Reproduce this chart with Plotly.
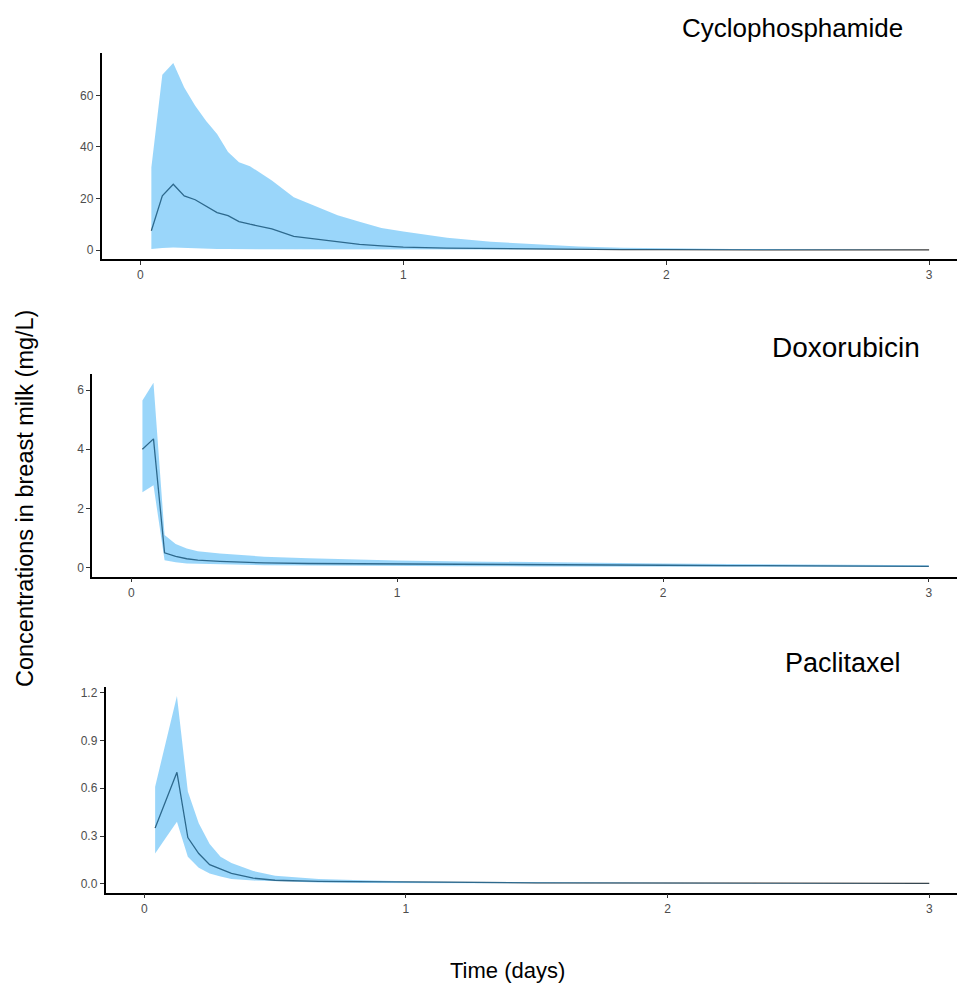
import plotly.graph_objects as go

W, H = 957, 984

# ---------------- data (time in hours, concentration in mg/L) ----------------
cyc_hours = [1, 2, 3, 4, 5, 6, 7, 8, 9, 10, 12, 14, 16, 18, 20, 22, 24, 28, 32, 36, 40, 44, 48, 54, 60, 66, 72]
cyc_median = [7.5, 21, 25.5, 21, 19.5, 17, 14.5, 13.3, 11, 10, 8.2, 5.3, 4.2, 3.2, 2.2, 1.6, 1.1, 0.7, 0.5, 0.35, 0.25, 0.18, 0.12, 0.08, 0.05, 0.03, 0.02]
cyc_upper = [32, 68, 72.5, 63, 56, 50, 45, 38, 34, 32.5, 27, 20.5, 17, 13.5, 11, 8.5, 7.2, 4.8, 3.2, 2.2, 1.4, 0.9, 0.6, 0.4, 0.3, 0.2, 0.15]
cyc_lower = [0.4, 0.8, 1.0, 0.8, 0.6, 0.5, 0.4, 0.35, 0.3, 0.25, 0.2, 0.15, 0.12, 0.1, 0.08, 0.06, 0.05, 0.04, 0.03, 0.02, 0.02, 0.01, 0.01, 0.01, 0.0, 0.0, 0.0]

dox_hours = [1, 2, 3, 4, 5, 6, 8, 10, 12, 16, 20, 24, 30, 36, 42, 48, 54, 60, 66, 72]
dox_median = [4.0, 4.35, 0.5, 0.38, 0.3, 0.25, 0.21, 0.18, 0.16, 0.14, 0.13, 0.12, 0.11, 0.1, 0.09, 0.08, 0.07, 0.06, 0.05, 0.04]
dox_upper = [5.65, 6.25, 1.1, 0.8, 0.65, 0.55, 0.48, 0.42, 0.37, 0.32, 0.28, 0.24, 0.21, 0.18, 0.16, 0.14, 0.12, 0.1, 0.09, 0.08]
dox_lower = [2.55, 2.78, 0.25, 0.18, 0.14, 0.12, 0.1, 0.09, 0.08, 0.07, 0.06, 0.05, 0.05, 0.04, 0.04, 0.03, 0.03, 0.02, 0.02, 0.02]

pac_hours = [1, 2, 3, 4, 5, 6, 7, 8, 10, 12, 16, 20, 24, 30, 36, 48, 60, 72]
pac_median = [0.35, 0.52, 0.70, 0.29, 0.19, 0.12, 0.09, 0.065, 0.035, 0.022, 0.015, 0.012, 0.01, 0.008, 0.006, 0.004, 0.003, 0.002]
pac_upper = [0.61, 0.9, 1.18, 0.58, 0.38, 0.25, 0.17, 0.13, 0.08, 0.05, 0.03, 0.022, 0.016, 0.012, 0.01, 0.006, 0.004, 0.003]
pac_lower = [0.19, 0.29, 0.39, 0.17, 0.1, 0.065, 0.045, 0.03, 0.02, 0.013, 0.008, 0.005, 0.004, 0.003, 0.002, 0.001, 0.001, 0.001]

drug_names = ["Cyclophosphamide", "Doxorubicin", "Paclitaxel"]
x_tick_vals = [0, 1, 2, 3]
y_tick_vals = [[0, 20, 40, 60], [0, 2, 4, 6], [0.0, 0.3, 0.6, 0.9, 1.2]]
y_tick_text = [["0", "20", "40", "60"], ["0", "2", "4", "6"], ["0.0", "0.3", "0.6", "0.9", "1.2"]]

# ---------------- layout geometry (pixels) ----------------
panels = [
    dict(left=101.5, top=53.3, bottom=259.3, yrange=[-3.6, 76.3], title_x=905, title_y=28, title_size=26),
    dict(left=92.0, top=373.5, bottom=576.5, yrange=[-0.30, 6.56], title_x=922, title_y=347, title_size=28),
    dict(left=105.5, top=686.7, bottom=892.5, yrange=[-0.055, 1.238], title_x=903, title_y=663, title_size=27),
]
x_range = [-0.148, 3.106]

BAND = "rgba(30,165,245,0.45)"
LINE = "#3a3a3a"
FONT = "Liberation Sans, Arial, sans-serif"

series = [
    (cyc_hours, cyc_median, cyc_upper, cyc_lower),
    (dox_hours, dox_median, dox_upper, dox_lower),
    (pac_hours, pac_median, pac_upper, pac_lower),
]

fig = go.Figure()
layout = dict(
    width=W, height=H,
    margin=dict(l=0, r=0, t=0, b=0),
    paper_bgcolor="white", plot_bgcolor="white",
    showlegend=False,
    font=dict(family=FONT, color="#4d4d4d", size=12),
)
annotations = []

for i, ((hrs, med, up, lo), p) in enumerate(zip(series, panels)):
    t = [h / 24 for h in hrs]
    xa = "x" if i == 0 else f"x{i+1}"
    ya = "y" if i == 0 else f"y{i+1}"
    # median line (drawn first, band overlays it semi-transparently)
    fig.add_trace(go.Scatter(x=t, y=med, mode="lines", line=dict(color=LINE, width=1.3),
                             xaxis=xa, yaxis=ya, hoverinfo="skip"))
    # prediction band polygon
    fig.add_trace(go.Scatter(x=t + t[::-1], y=up + lo[::-1], mode="lines", fill="toself",
                             fillcolor=BAND, line=dict(width=0, color="rgba(0,0,0,0)"),
                             xaxis=xa, yaxis=ya, hoverinfo="skip"))
    key = "" if i == 0 else str(i + 1)
    common = dict(showgrid=False, zeroline=False, showline=True, linecolor="black", linewidth=1.5,
                  ticks="outside", ticklen=4, tickwidth=1.2, tickcolor="#333333",
                  tickfont=dict(family=FONT, size=12, color="#4d4d4d"))
    layout["xaxis" + key] = dict(domain=[p["left"] / W, 1.0], range=x_range, anchor=ya,
                                 tickvals=x_tick_vals, ticktext=[str(v) for v in x_tick_vals], **common)
    layout["yaxis" + key] = dict(domain=[1 - p["bottom"] / H, 1 - p["top"] / H], range=p["yrange"],
                                 anchor=xa, tickvals=y_tick_vals[i], ticktext=y_tick_text[i], **common)
    annotations.append(dict(text=drug_names[i], x=p["title_x"] / W, y=1 - p["title_y"] / H,
                            xref="paper", yref="paper", xanchor="right", yanchor="middle",
                            showarrow=False, font=dict(family=FONT, size=p["title_size"], color="black")))

annotations.append(dict(text="Time (days)", x=508 / W, y=1 - 970 / H, xref="paper", yref="paper",
                        xanchor="center", yanchor="middle", showarrow=False,
                        font=dict(family=FONT, size=22, color="black")))
annotations.append(dict(text="Concentrations in breast milk (mg/L)", x=25 / W, y=1 - 499 / H,
                        xref="paper", yref="paper", xanchor="center", yanchor="middle",
                        textangle=-90, showarrow=False,
                        font=dict(family=FONT, size=23.5, color="black")))
layout["annotations"] = annotations

fig.update_layout(**layout)
fig.write_html("out.html")
